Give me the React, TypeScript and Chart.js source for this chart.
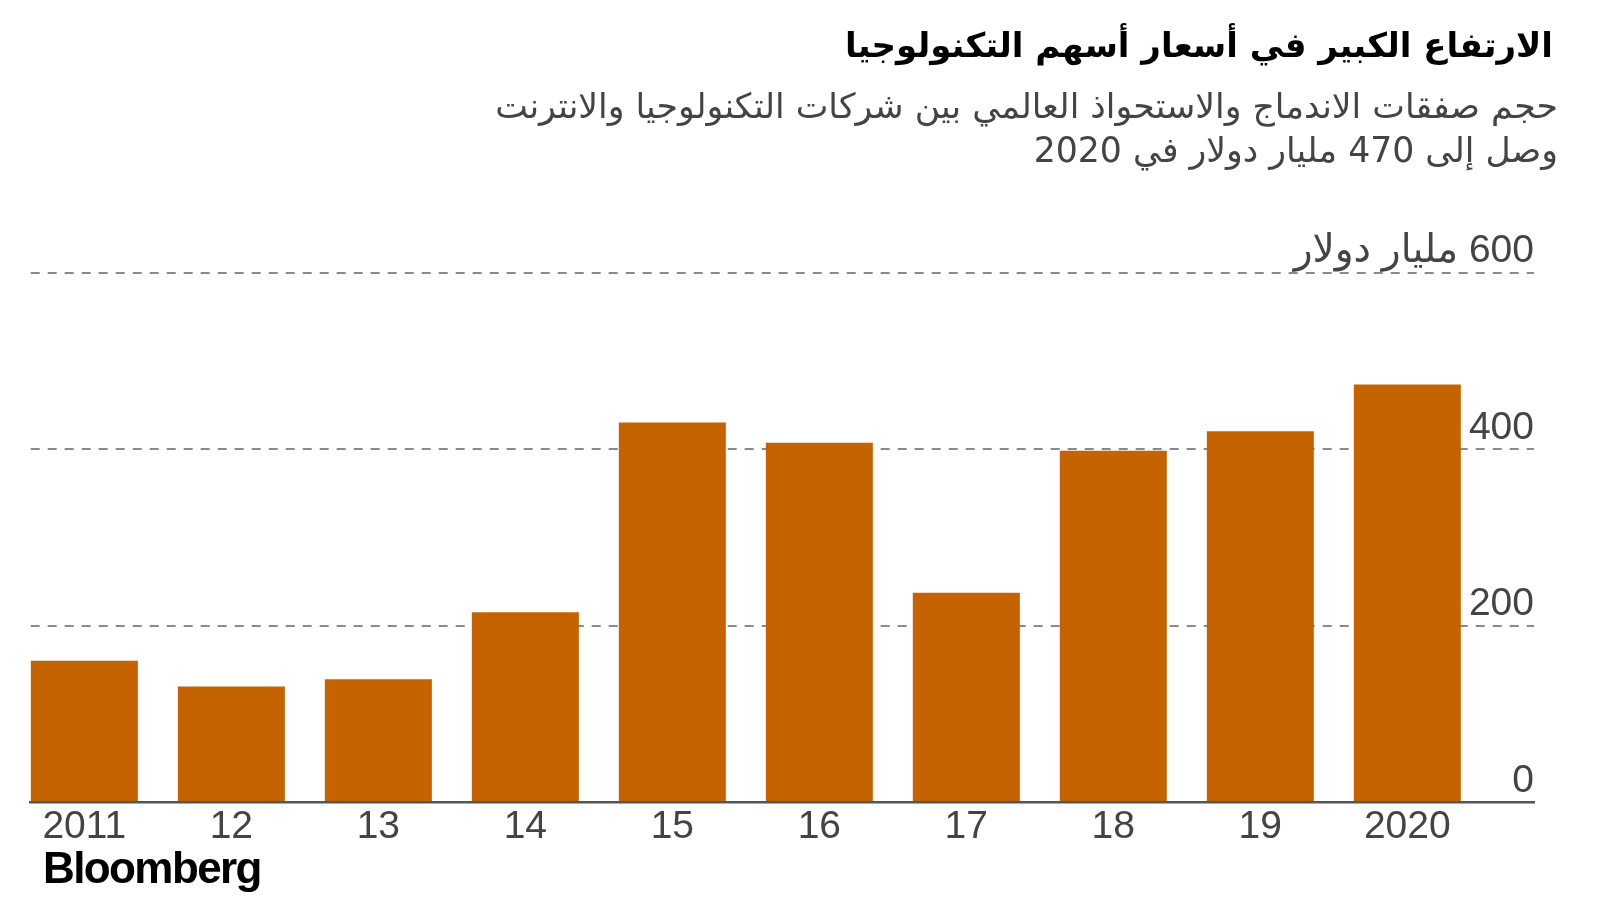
import React, { useEffect, useRef } from 'react';
import { Chart, registerables } from 'chart.js';

Chart.register(...registerables);

// ---- data ----
const categories: string[] = ['2011', '12', '13', '14', '15', '16', '17', '18', '19', '2020'];
const dealValues: number[] = [160, 131, 139, 215, 430, 407, 237, 398, 420, 473];
const yTickLabels: string[] = ['0', '200', '400', '600 مليار دولار'];

const titleText = 'الارتفاع الكبير في أسعار أسهم التكنولوجيا';
const subtitleLine1 = 'حجم صفقات الاندماج والاستحواذ العالمي بين شركات التكنولوجيا والانترنت';
const subtitleLine2 = 'وصل إلى 470 مليار دولار في 2020';
const sourceText = 'Bloomberg';

const BAR_COLOR = '#c46300';
const TEXT_COLOR = '#444444';
const GRID_COLOR = '#8a8a8a';

export default function App() {
  const canvasRef = useRef<HTMLCanvasElement | null>(null);

  useEffect(() => {
    const canvas = canvasRef.current;
    if (!canvas) return;
    const tickFont = { family: '"Liberation Sans", "DejaVu Sans", sans-serif', size: 39 };
    const chart = new Chart(canvas, {
      type: 'bar',
      data: {
        datasets: [
          {
            data: categories.map((_, i) => ({ x: i, y: dealValues[i] })),
            backgroundColor: BAR_COLOR,
            borderWidth: 0,
            barPercentage: 0.728,
            categoryPercentage: 1,
            clip: false as any,
          },
        ],
      },
      options: {
        responsive: false,
        animation: false,
        events: [],
        layout: { padding: { left: 30.7, top: 272.5, right: 0, bottom: 0 } },
        plugins: { legend: { display: false }, tooltip: { enabled: false } },
        scales: {
          x: {
            type: 'linear',
            offset: false,
            min: -0.365,
            max: 9.862,
            grid: { display: false, drawTicks: false },
            border: { display: true, color: '#555555', width: 2.5 },
            ticks: {
              stepSize: 1,
              includeBounds: false,
              autoSkip: false,
              maxRotation: 0,
              padding: 2,
              color: TEXT_COLOR,
              font: tickFont,
              callback: (v: any) => (Number.isInteger(v) && categories[v] !== undefined ? categories[v] : ''),
            },
            afterFit: (s: any) => {
              s.height = 98;
            },
          },
          y: {
            position: 'right',
            min: 0,
            max: 600,
            grid: {
              color: (ctx: any) => (ctx.tick && ctx.tick.value === 0 ? 'rgba(0,0,0,0)' : GRID_COLOR),
              lineWidth: 2,
              drawTicks: false,
            },
            border: { display: false, dash: [9, 8] },
            ticks: {
              stepSize: 200,
              mirror: true,
              padding: 0,
              labelOffset: -21,
              color: TEXT_COLOR,
              font: tickFont,
              callback: (_v: any, i: number) => yTickLabels[i],
            },
            afterFit: (s: any) => {
              s.width = 66;
            },
          },
        },
      } as any,
    });
    return () => chart.destroy();
  }, []);

  return (
    <div style={{ position: 'fixed', left: 0, top: 0, width: 1600, height: 900, background: '#fff', overflow: 'hidden' }}>
      <canvas ref={canvasRef} width={1600} height={900} style={{ position: 'absolute', left: 0, top: 0, width: 1600, height: 900, direction: 'rtl' }} />
      <div
        style={{
          position: 'absolute',
          right: 47,
          top: 20,
          direction: 'rtl',
          font: 'bold 34px "DejaVu Sans", sans-serif',
          lineHeight: '50px',
          color: '#000',
          whiteSpace: 'nowrap',
        }}
      >
        {titleText}
      </div>
      <div
        style={{
          position: 'absolute',
          right: 42,
          top: 84,
          direction: 'rtl',
          textAlign: 'right',
          font: '34.7px "DejaVu Sans", sans-serif',
          lineHeight: '44px',
          color: TEXT_COLOR,
          whiteSpace: 'nowrap',
        }}
      >
        <div>{subtitleLine1}</div>
        <div>{subtitleLine2}</div>
      </div>
      <div
        style={{
          position: 'absolute',
          left: 43,
          top: 846,
          font: 'bold 44px "Liberation Sans", Arial, sans-serif',
          letterSpacing: '-1.6px',
          lineHeight: '44px',
          color: '#000',
        }}
      >
        {sourceText}
      </div>
    </div>
  );
}
